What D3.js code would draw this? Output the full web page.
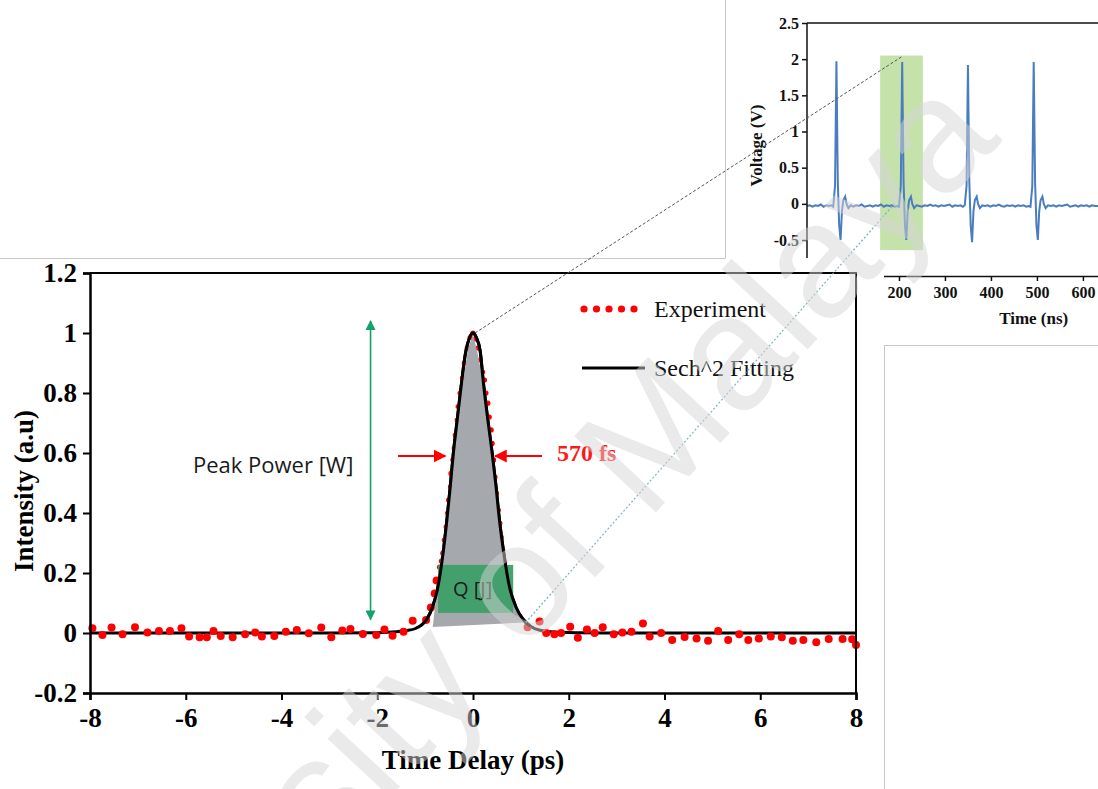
<!DOCTYPE html>
<html>
<head>
<meta charset="utf-8">
<script src="https://cdn.jsdelivr.net/npm/d3@7"></script>
<style>
  html, body { margin: 0; padding: 0; background: #fff; }
  svg { display: block; }
</style>
</head>
<body>
<svg id="chart" width="1098" height="789"></svg>
<script>
// ---- main autocorrelation trace ----
// coarse experiment scan
const expX = [-7.95, -7.74, -7.55, -7.32, -7.06, -6.80, -6.56, -6.33, -6.09, -5.93, -5.71, -5.56, -5.42, -5.27, -5.02,
  -4.76, -4.55, -4.41, -4.15, -3.91, -3.68, -3.43, -3.17, -2.96, -2.73, -2.56, -2.30, -2.02, -1.85, -1.68, -1.45,
  -1.26, -0.98, -0.88, -0.80, -0.76,
  1.14, 1.39, 1.53, 1.70, 1.84, 2.03, 2.19, 2.38, 2.54, 2.71, 2.94, 3.12, 3.31, 3.55, 3.69, 3.93, 4.16, 4.42,
  4.67, 4.91, 5.12, 5.33, 5.56, 5.75, 5.97, 6.22, 6.45, 6.68, 6.90, 7.17, 7.43, 7.72, 7.92, 8.0];
const expY = [0.016, -0.007, 0.018, -0.004, 0.019, 0.002, 0.007, 0.007, 0.016, -0.012, -0.014, -0.014, 0.007, -0.010, -0.014,
  -0.004, 0.002, -0.012, -0.010, 0.004, 0.010, -0.001, 0.018, -0.014, 0.008, 0.013, -0.003, -0.007, 0.012, -0.009, 0.004,
  0.041, 0.043, 0.085, 0.132, 0.175,
  0.019, 0.038, 0.000, -0.004, 0.000, 0.021, -0.016, 0.012, 0.000, 0.019, -0.004, 0.002, 0.004, 0.032, -0.012, 0.000, -0.023, -0.013,
  -0.018, -0.026, 0.007, -0.023, -0.004, -0.023, -0.018, -0.012, -0.014, -0.026, -0.023, -0.031, -0.020, -0.020, -0.021, -0.040];
// dense samples over the pulse
const peakX = [-0.70, -0.66, -0.63, -0.60, -0.56, -0.53, -0.51, -0.47, -0.46, -0.42, -0.39, -0.37, -0.33, -0.31, -0.27, -0.22,
  -0.18, -0.12, -0.06, 0.0, 0.05, 0.10, 0.15, 0.20, 0.24, 0.27, 0.31, 0.34, 0.38, 0.40, 0.43, 0.46, 0.49, 0.53, 0.56,
  0.59, 0.62, 0.66, 0.70, 0.73, 0.79, 0.86];
const peakY = [0.22, 0.24, 0.266, 0.31, 0.354, 0.40, 0.443, 0.488, 0.532, 0.577, 0.616, 0.66, 0.71, 0.755, 0.80, 0.85,
  0.90, 0.95, 0.985, 1.0, 0.98, 0.95, 0.91, 0.87, 0.843, 0.80, 0.766, 0.72, 0.677, 0.632, 0.577, 0.52, 0.466, 0.41, 0.366,
  0.32, 0.277, 0.235, 0.19, 0.15, 0.09, 0.06];
// sech^2 fit
const fitX = [-8, -3, -2, -1.6, -1.4, -1.2, -1.05, -0.95, -0.85, -0.75, -0.63, -0.55, -0.48, -0.41, -0.33, -0.25, -0.16,
  -0.07, 0, 0.07, 0.15, 0.22, 0.31, 0.40, 0.48, 0.55, 0.64, 0.76, 0.9, 1.05, 1.2, 1.4, 1.7, 2.2, 3, 8];
const fitY = [0, 0, 0.001, 0.004, 0.008, 0.015, 0.03, 0.05, 0.085, 0.14, 0.26, 0.37, 0.48, 0.6, 0.71, 0.82, 0.93,
  0.985, 1.0, 0.985, 0.94, 0.83, 0.71, 0.6, 0.49, 0.38, 0.27, 0.155, 0.085, 0.045, 0.022, 0.009, 0.003, 0.001, 0, 0];
const xTicks = [-8, -6, -4, -2, 0, 2, 4, 6, 8];
const yTicks = [-0.2, 0, 0.2, 0.4, 0.6, 0.8, 1, 1.2];

// shaded pulse area and Q box (data units)
const areaX = [0, 0.1, 0.25, 0.4, 0.55, 0.7, 0.85, 1.05, -0.84, -0.72, -0.55, -0.4, -0.25, -0.1];
const areaY = [0.995, 0.93, 0.8, 0.6, 0.38, 0.2, 0.1, 0.035, 0.02, 0.2, 0.38, 0.6, 0.8, 0.95];
const qBox = { x0: -0.73, x1: 0.84, y0: 0.067, y1: 0.227 };

// ---- inset oscilloscope trace (ns, V) ----
const traceT = [0, 6, 12, 18, 24, 30, 36, 42, 48, 53, 57, 61, 64, 67, 70, 73, 76, 79, 83, 86, 90, 95,
  101, 107, 113, 119, 125, 131, 137, 143, 149, 155, 161, 167, 173, 179, 185, 191, 196, 200, 204, 207, 210, 213, 216, 219, 222, 226, 229, 233, 238,
  244, 250, 256, 262, 268, 274, 280, 286, 292, 298, 304, 310, 316, 322, 328, 334, 339, 343, 347, 350, 353, 356, 359, 362, 365, 369, 372, 376, 381,
  387, 393, 399, 405, 411, 417, 423, 429, 435, 441, 447, 453, 459, 465, 471, 477, 482, 486, 490, 493, 496, 499, 502, 505, 508, 512, 515, 519, 524,
  530, 536, 542, 548, 554, 560, 566, 572, 578, 584, 590, 596, 602, 608, 614, 620, 626, 635];
const traceV = [-0.03, -0.02, -0.04, -0.02, -0.03, -0.01, -0.04, -0.02, -0.03, -0.02, -0.04, 0.25, 1.97, 0.3, -0.3, -0.5, -0.1, 0.05, 0.1, 0.0, -0.06, -0.02,
  -0.04, -0.02, -0.03, -0.01, -0.04, -0.03, -0.02, -0.04, -0.02, -0.03, -0.01, -0.04, -0.02, -0.03, -0.02, -0.04, -0.03, -0.04, 0.25, 1.96, 0.3, -0.3, -0.5, -0.1, 0.05, 0.1, 0.0, -0.06, -0.02,
  -0.03, -0.04, -0.02, -0.03, -0.01, -0.03, -0.02, -0.04, -0.02, -0.03, -0.02, -0.01, -0.04, -0.02, -0.03, -0.02, -0.04, -0.02, 0.25, 1.92, 0.3, -0.3, -0.53, -0.1, 0.05, 0.1, 0.0, -0.06, -0.02,
  -0.03, -0.02, -0.04, -0.02, -0.03, -0.01, -0.03, -0.04, -0.02, -0.03, -0.02, -0.04, -0.02, -0.03, -0.02, -0.04, -0.03, -0.04, 0.25, 1.96, 0.3, -0.3, -0.5, -0.1, 0.05, 0.1, 0.0, -0.06, -0.02,
  -0.03, -0.02, -0.04, -0.02, -0.03, -0.02, -0.01, -0.04, -0.03, -0.02, -0.04, -0.02, -0.03, -0.02, -0.04, -0.02, -0.03, -0.03];
const insetXTicks = [200, 300, 400, 500, 600];
const insetYTicks = [-0.5, 0, 0.5, 1, 1.5, 2, 2.5];
const insetBand = { t0: 159, t1: 252, v0: -0.64, v1: 2.05 };

const serif = "'Liberation Serif', 'Times New Roman', serif";
const sans = "'Open Sans', 'Liberation Sans', sans-serif";
const fmt = d => String(+d.toFixed(1));

const svg = d3.select("#chart");

// ================= inset =================
const xi = d3.scaleLinear().domain([0, 635]).range([807, 1099]);
const yi = d3.scaleLinear().domain([-0.5, 2.5]).range([240, 23]);
const inset = svg.append("g");

inset.append("rect")
  .attr("x", xi(insetBand.t0)).attr("width", xi(insetBand.t1) - xi(insetBand.t0))
  .attr("y", yi(insetBand.v1)).attr("height", yi(insetBand.v0) - yi(insetBand.v1))
  .attr("fill", "#9fcf73").attr("opacity", 0.6);

inset.append("path")
  .datum(d3.range(traceT.length))
  .attr("fill", "none").attr("stroke", "#4a7cc0").attr("stroke-width", 2)
  .attr("d", d3.line().x(i => xi(traceT[i])).y(i => yi(traceV[i])));

inset.append("line")
  .attr("x1", xi(0)).attr("x2", 1098).attr("y1", yi(2.5)).attr("y2", yi(2.5))
  .attr("stroke", "#111").attr("stroke-width", 1.5);

const iyAxis = inset.append("g")
  .attr("transform", `translate(${xi(0)},0)`)
  .call(d3.axisLeft(yi).tickValues(insetYTicks).tickFormat(fmt).tickSize(5).tickPadding(3));
iyAxis.select(".domain").remove();
iyAxis.append("line").attr("y1", yi(2.5)).attr("y2", 258).attr("stroke", "#111").attr("stroke-width", 1.5);
iyAxis.selectAll("text").attr("font-family", serif).attr("font-weight", "bold").attr("font-size", 16).attr("fill", "#111");
iyAxis.selectAll(".tick line").attr("stroke", "#111").attr("stroke-width", 1.5);

inset.append("text")
  .attr("transform", `translate(762,${(yi(2) + yi(-0.5)) / 2 - 4}) rotate(-90)`)
  .attr("text-anchor", "middle")
  .attr("font-family", serif).attr("font-weight", "bold").attr("font-size", 17).attr("fill", "#111")
  .text("Voltage (V)");

const ixAxis = inset.append("g")
  .attr("transform", "translate(0,276)")
  .call(d3.axisBottom(xi).tickValues(insetXTicks).tickSize(5).tickPadding(6));
ixAxis.select(".domain").attr("stroke", "#111").attr("stroke-width", 1.5);
ixAxis.selectAll(".tick line").attr("stroke", "#111").attr("stroke-width", 1.5);
ixAxis.selectAll("text").attr("font-family", serif).attr("font-weight", "bold").attr("font-size", 16).attr("fill", "#111");

inset.append("text")
  .attr("x", xi(493)).attr("y", 324)
  .attr("text-anchor", "middle")
  .attr("font-family", serif).attr("font-weight", "bold").attr("font-size", 17).attr("fill", "#111")
  .text("Time (ns)");

// ================= panels that overlap the inset =================
svg.append("rect").attr("x", 0).attr("y", 258).attr("width", 884).attr("height", 531).attr("fill", "#fff");
svg.append("rect").attr("x", 0).attr("y", 0).attr("width", 725).attr("height", 258).attr("fill", "#fff");
svg.append("path").attr("d", "M0,258.5H725.5V0").attr("fill", "none").attr("stroke", "#c9c9c9");
svg.append("rect").attr("x", 884.5).attr("y", 345.5).attr("width", 220).attr("height", 450)
  .attr("fill", "#fff").attr("stroke", "#c9c9c9");

// ================= main chart =================
const x = d3.scaleLinear().domain([-8, 8]).range([90, 856]);
const y = d3.scaleLinear().domain([-0.2, 1.2]).range([693, 273]);
const main = svg.append("g");

const fitLine = d3.line().curve(d3.curveMonotoneX).x(i => x(fitX[i])).y(i => y(fitY[i]));
main.append("path")
  .datum(d3.range(fitX.length))
  .attr("fill", "none").attr("stroke", "#000").attr("stroke-width", 3)
  .attr("d", fitLine);

main.append("g").selectAll("circle")
  .data(d3.range(expX.length))
  .join("circle")
  .attr("cx", i => x(expX[i])).attr("cy", i => y(expY[i])).attr("r", 4)
  .attr("fill", "#ff0000");

main.append("g").selectAll("circle")
  .data(d3.range(peakX.length))
  .join("circle")
  .attr("cx", i => x(peakX[i])).attr("cy", i => y(peakY[i])).attr("r", 2.6)
  .attr("fill", "#ff0000");

// shaded pulse energy
main.append("path")
  .datum(d3.range(areaX.length))
  .attr("fill", "#a2a5aa").attr("opacity", 0.97)
  .attr("d", d3.line().x(i => x(areaX[i])).y(i => y(areaY[i])).curve(d3.curveLinearClosed));

main.append("rect")
  .attr("x", x(qBox.x0)).attr("width", x(qBox.x1) - x(qBox.x0))
  .attr("y", y(qBox.y1)).attr("height", y(qBox.y0) - y(qBox.y1))
  .attr("fill", "#3d9f68").attr("opacity", 0.95);

// fit line again over the shaded pulse
svg.append("clipPath").attr("id", "peakClip")
  .append("rect").attr("x", x(-1.3)).attr("width", x(1.3) - x(-1.3)).attr("y", 273).attr("height", y(0.02) - 273);
main.append("path")
  .datum(d3.range(fitX.length))
  .attr("clip-path", "url(#peakClip)")
  .attr("fill", "none").attr("stroke", "#000").attr("stroke-width", 3)
  .attr("d", fitLine);

main.append("text")
  .attr("x", x((qBox.x0 + qBox.x1) / 2) - 3).attr("y", y((qBox.y0 + qBox.y1) / 2) + 7)
  .attr("text-anchor", "middle")
  .attr("font-family", sans).attr("font-size", 20).attr("fill", "#1a1a1a")
  .text("Q [J]");

// axes
const yAxis = main.append("g")
  .attr("transform", `translate(${x(-8)},0)`)
  .call(d3.axisLeft(y).tickValues(yTicks).tickFormat(fmt).tickSize(7).tickPadding(6));
const xAxis = main.append("g")
  .attr("transform", `translate(0,${y(-0.2)})`)
  .call(d3.axisBottom(x).tickValues(xTicks).tickFormat(fmt).tickSize(7).tickPadding(8));
[yAxis, xAxis].forEach(ax => {
  ax.select(".domain").attr("stroke", "#000").attr("stroke-width", 2.5);
  ax.selectAll(".tick line").attr("stroke", "#000").attr("stroke-width", 2);
  ax.selectAll("text").attr("font-family", serif).attr("font-weight", "bold").attr("font-size", 27).attr("fill", "#000");
});
main.append("path")
  .attr("d", `M${x(-8)},${y(1.2)}H${x(8)}V${y(-0.2)}`)
  .attr("fill", "none").attr("stroke", "#000").attr("stroke-width", 2);

main.append("text")
  .attr("transform", `translate(33,${(y(1.2) + y(-0.2)) / 2 + 8}) rotate(-90)`)
  .attr("text-anchor", "middle")
  .attr("font-family", serif).attr("font-weight", "bold").attr("font-size", 27).attr("fill", "#000")
  .text("Intensity (a.u)");
main.append("text")
  .attr("x", x(0)).attr("y", 769)
  .attr("text-anchor", "middle")
  .attr("font-family", serif).attr("font-weight", "bold").attr("font-size", 27).attr("fill", "#000")
  .text("Time Delay (ps)");

// legend
const legDots = [0, 1, 2, 3, 4];
main.append("g").selectAll("circle")
  .data(legDots).join("circle")
  .attr("cx", d => 584 + d * 12.5).attr("cy", 309).attr("r", 3.6).attr("fill", "#ff0000");
main.append("text").attr("x", 654).attr("y", 317)
  .attr("font-family", serif).attr("font-size", 24).attr("fill", "#111").text("Experiment");
main.append("line").attr("x1", 582).attr("x2", 645).attr("y1", 368).attr("y2", 368)
  .attr("stroke", "#000").attr("stroke-width", 3);
main.append("text").attr("x", 654).attr("y", 376)
  .attr("font-family", serif).attr("font-size", 24).attr("fill", "#111").text("Sech^2 Fitting");

// annotations
const defs = svg.append("defs");
const marker = (id, color, w, h) => defs.append("marker")
  .attr("id", id).attr("viewBox", "0 0 10 10").attr("refX", 9).attr("refY", 5)
  .attr("markerUnits", "userSpaceOnUse").attr("markerWidth", w).attr("markerHeight", h)
  .attr("orient", "auto-start-reverse")
  .append("path").attr("d", "M0,0L10,5L0,10Z").attr("fill", color);
marker("arrG", "#16a06a", 11, 10);
marker("arrR", "#ff0000", 13, 13);

main.append("line")
  .attr("x1", x(-2.14)).attr("x2", x(-2.14)).attr("y1", y(1.04)).attr("y2", y(0.045))
  .attr("stroke", "#16a06a").attr("stroke-width", 1.6)
  .attr("marker-start", "url(#arrG)").attr("marker-end", "url(#arrG)");
main.append("text").attr("x", 193).attr("y", 473)
  .attr("font-family", sans).attr("font-size", 22).attr("fill", "#1a1a1a").text("Peak Power [W]");

main.append("line")
  .attr("x1", 398).attr("x2", x(-0.6) + 1).attr("y1", y(0.59)).attr("y2", y(0.59))
  .attr("stroke", "#ff0000").attr("stroke-width", 2).attr("marker-end", "url(#arrR)");
main.append("line")
  .attr("x1", 542).attr("x2", x(0.44) + 1).attr("y1", y(0.59)).attr("y2", y(0.59))
  .attr("stroke", "#ff0000").attr("stroke-width", 2).attr("marker-end", "url(#arrR)");
main.append("text").attr("x", 557).attr("y", 461)
  .attr("font-family", serif).attr("font-weight", "bold").attr("font-size", 24).attr("fill", "#ff1a1a")
  .text("570 fs");

// zoom guide lines to the inset
svg.append("line")
  .attr("x1", x(0) + 2).attr("y1", y(1.0)).attr("x2", xi(205)).attr("y2", yi(2.03))
  .attr("stroke", "#555").attr("stroke-width", 1).attr("stroke-dasharray", "3,2");
svg.append("line")
  .attr("x1", x(1.1)).attr("y1", y(0.035)).attr("x2", xi(190)).attr("y2", yi(0))
  .attr("stroke", "#7fb0c0").attr("stroke-width", 1.2).attr("stroke-dasharray", "2,2");

// watermark
svg.append("text")
  .attr("transform", "translate(1003,140) rotate(-47)")
  .attr("text-anchor", "end")
  .attr("font-family", "'Liberation Sans', Arial, sans-serif").attr("font-size", 162)
  .attr("fill", "rgb(214,214,214)").attr("opacity", 0.5)
  .text("University of Malaya");
</script>
</body>
</html>
